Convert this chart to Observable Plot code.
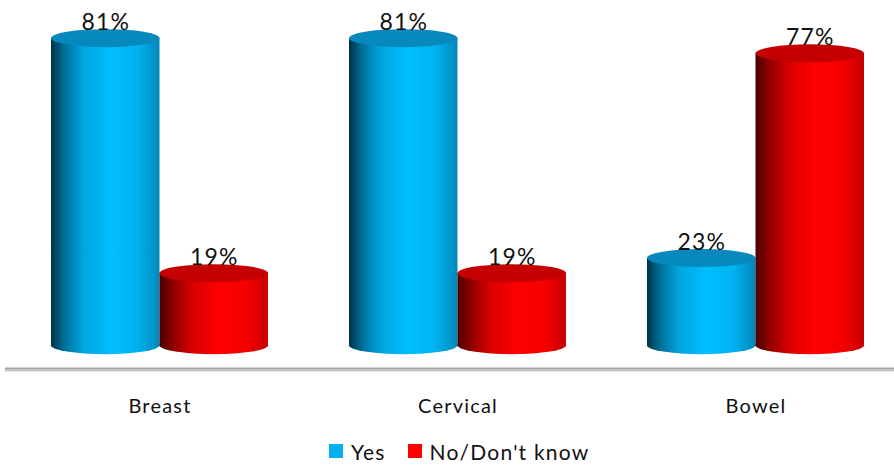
<!DOCTYPE html>
<html>
<head>
<meta charset="utf-8">
<script src="https://cdn.jsdelivr.net/npm/d3@7"></script>
<script src="https://cdn.jsdelivr.net/npm/@observablehq/plot@0.6"></script>
<style>
  body { margin: 0; background: #fff; font-family: Lato, "DejaVu Sans", sans-serif; }
  #chart { width: 894px; height: 466px; position: relative; overflow: hidden; }
  .legend { height: 34px; display: flex; align-items: center; font-size: 21px; color: #111; padding-left: 329px; padding-top: 2px; letter-spacing: 1.2px; }
  .legend span.sw { display: inline-block; width: 14px; height: 14px; margin-right: 8px; }
  .legend .item { display: flex; align-items: center; margin-right: 22px; }
</style>
</head>
<body>
<svg width="0" height="0" style="position:absolute">
  <defs>
    <linearGradient id="gYes" x1="0" x2="1" y1="0" y2="0">
      <stop offset="0" stop-color="#003246"/>
      <stop offset="0.12" stop-color="#006f99"/>
      <stop offset="0.3" stop-color="#00a6df"/>
      <stop offset="0.55" stop-color="#00beff"/>
      <stop offset="0.8" stop-color="#00b2ef"/>
      <stop offset="1" stop-color="#0088bb"/>
    </linearGradient>
    <linearGradient id="gNo" x1="0" x2="1" y1="0" y2="0">
      <stop offset="0" stop-color="#4a0000"/>
      <stop offset="0.12" stop-color="#8c0000"/>
      <stop offset="0.3" stop-color="#d80000"/>
      <stop offset="0.55" stop-color="#ff0000"/>
      <stop offset="0.8" stop-color="#f50000"/>
      <stop offset="1" stop-color="#c80000"/>
    </linearGradient>
  </defs>
</svg>
<div id="chart"></div>
<script>
const categories = ["Breast", "Cervical", "Bowel"];
const seriesNames = ["Yes", "No/Don't know"];
const yesValues = [81, 81, 23];
const noValues = [19, 19, 77];
const seriesColors = ["#00b0f0", "#ff0000"];

const yesData = categories.map((c, i) => ({category: c, series: seriesNames[0], value: yesValues[i]}));
const noData = categories.map((c, i) => ({category: c, series: seriesNames[1], value: noValues[i]}));

const BASE = -6;      // baseline position below zero (axis decoration)
const HALF = 108.5;   // half band width in px (two bars per band)
const RY = 9;         // ellipse half-height in px

function cylinder(data, grad, topColor, side) {
  const inset = side === "left" ? {insetRight: HALF} : {insetLeft: HALF};
  return [
    Plot.barY(data, {x: "category", y1: () => 0, y2: () => 0, insetTop: -RY, insetBottom: -RY, rx: 60, ry: RY, fill: grad, ...inset}),
    Plot.barY(data, {x: "category", y1: () => 0, y2: "value", fill: grad, ...inset}),
    Plot.barY(data, {x: "category", y1: "value", y2: "value", insetTop: -RY, insetBottom: -RY, rx: 60, ry: RY, fill: topColor, ...inset}),
    Plot.text(data, {x: "category", y: "value", text: d => d.value + "%", dx: side === "left" ? -HALF / 2 : HALF / 2, dy: -9, lineAnchor: "bottom", fontSize: 23, fill: "#111"})
  ];
}

const plot = Plot.plot({
  width: 894,
  height: 432,
  marginLeft: 21,
  marginRight: 0,
  marginTop: 23,
  marginBottom: 64,
  style: {fontSize: "20px", fontFamily: "Lato, 'DejaVu Sans', sans-serif", color: "#111", background: "transparent"},
  x: {domain: categories, paddingInner: 0.272, paddingOuter: 0.1, tickSize: 0, tickPadding: 30, label: null},
  y: {domain: [BASE, 85], axis: null},
  marks: [
    Plot.ruleY([BASE], {stroke: "#c3c3c3", strokeWidth: 2, dy: 2, insetLeft: -16}),
    Plot.ruleY([BASE], {stroke: "#a5a5a5", strokeWidth: 2, insetLeft: -16}),
    ...cylinder(yesData, "url(#gYes)", "#0789bd", "left"),
    ...cylinder(noData, "url(#gNo)", "#c40000", "right")
  ]
});
plot.style.letterSpacing = "1.2px";
document.getElementById("chart").appendChild(plot);

const legend = document.createElement("div");
legend.className = "legend";
seriesNames.forEach((s, i) => {
  const item = document.createElement("div");
  item.className = "item";
  const sw = document.createElement("span");
  sw.className = "sw";
  sw.style.background = seriesColors[i];
  item.appendChild(sw);
  item.appendChild(document.createTextNode(s));
  legend.appendChild(item);
});
document.getElementById("chart").appendChild(legend);
</script>
</body>
</html>
